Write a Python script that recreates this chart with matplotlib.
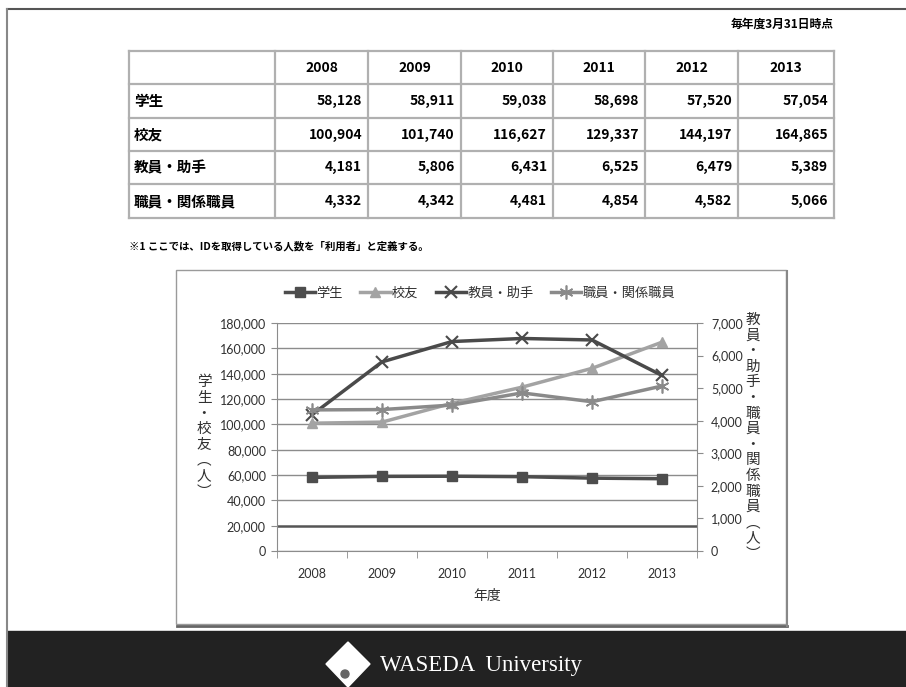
import matplotlib
matplotlib.use('Agg')
import matplotlib.pyplot as plt
from matplotlib.patches import Rectangle, Polygon, Circle
from matplotlib.ticker import FuncFormatter, MultipleLocator, FixedLocator

# data
years = ['2008', '2009', '2010', '2011', '2012', '2013']
row_labels = ['学生', '校友', '教員・助手', '職員・関係職員']
student = [58128, 58911, 59038, 58698, 57520, 57054]
alumni = [100904, 101740, 116627, 129337, 144197, 164865]
faculty = [4181, 5806, 6431, 6525, 6479, 5389]
staff = [4332, 4342, 4481, 4854, 4582, 5066]
table_rows = [student, alumni, faculty, staff]

legend_names = ['学生', '校友', '教員・助手', '職員・関係職員']
left_label = ['学', '生', '・', '校', '友', '︵', '人', '︶']
right_label = ['教', '員', '・', '助', '手', '・', '職', '員', '・', '関', '係', '職', '員', '︵', '人', '︶']

W, H = 906, 687
cjk = ['Noto Sans CJK JP', 'DejaVu Sans']
chart_font = ['Lato', 'Noto Sans CJK JP', 'DejaVu Sans']
plt.rcParams['font.family'] = cjk

fig = plt.figure(figsize=(W / 100, H / 100), dpi=100)
fig.patch.set_facecolor('white')

# overlay in pixel coords for the slide decoration and the table
bg = fig.add_axes([0, 0, 1, 1])
bg.set_xlim(0, W)
bg.set_ylim(H, 0)
bg.axis('off')

# slide frame
bg.plot([7, W], [9, 9], color='#555555', lw=1.5)
bg.plot([7, 7], [9, H], color='#888888', lw=1.5)
bg.add_patch(Rectangle((7, 631), W - 7, H - 631, color='#222222', zorder=1))

# footer logo
bg.add_patch(Polygon([(348, 642), (370, 664), (348, 687), (326, 664)],
                     closed=True, color='white', zorder=2))
bg.add_patch(Circle((345, 674), 4, color='#666666', zorder=3))
bg.text(380, 666, 'WASEDA  University', color='white', fontsize=16.5,
        family='Liberation Serif', va='center', ha='left', zorder=3)

# table
col_x = [129, 275, 368, 461, 553, 645, 738, 834]
row_y = [51, 84, 118, 151, 184, 218]
for y in row_y:
    bg.plot([col_x[0], col_x[-1]], [y, y], color='#b0b0b0', lw=1.6)
for x in col_x:
    bg.plot([x, x], [row_y[0], row_y[-1]], color='#b0b0b0', lw=1.6)

for j, yr in enumerate(years):
    bg.text((col_x[j + 1] + col_x[j + 2]) / 2, (row_y[0] + row_y[1]) / 2, yr,
            ha='center', va='center', fontsize=10, fontweight='bold')
for i, (lab, vals) in enumerate(zip(row_labels, table_rows)):
    yc = (row_y[i + 1] + row_y[i + 2]) / 2
    bg.text(col_x[0] + 5, yc, lab, ha='left', va='center', fontsize=10.5,
            fontweight='bold')
    for j, v in enumerate(vals):
        bg.text(col_x[j + 2] - 6, yc, f'{v:,}', ha='right', va='center',
                fontsize=10, fontweight='bold')

bg.text(834, 24, '毎年度3月31日時点', ha='right', va='center', fontsize=8.5,
        fontweight='bold')
bg.text(129, 246, '※1 ここでは、IDを取得している人数を「利用者」と定義する。',
        ha='left', va='center', fontsize=7.5, fontweight='bold')

# chart frame with shadow
bg.add_patch(Rectangle((176, 270), 610, 354, fill=False, edgecolor='#9a9a9a', lw=1))
bg.plot([177, 787], [625.5, 625.5], color='#666666', lw=2)
bg.plot([787, 787], [271, 625.5], color='#888888', lw=1.5)

# chart axes
x0, x1, yt, yb = 277, 697, 323, 551
ax = fig.add_axes([x0 / W, 1 - yb / H, (x1 - x0) / W, (yb - yt) / H])
ax2 = ax.twinx()
xs = list(range(len(years)))

grid_c = '#8c8c8c'
ax.set_xlim(-0.5, len(years) - 0.5)
ax.set_ylim(0, 180000)
ax2.set_ylim(0, 7000)
ax.yaxis.set_major_locator(MultipleLocator(20000))
ax2.yaxis.set_major_locator(MultipleLocator(1000))
fmt = FuncFormatter(lambda v, p: f'{int(v):,}')
ax.yaxis.set_major_formatter(fmt)
ax2.yaxis.set_major_formatter(fmt)
ax.grid(axis='y', color=grid_c, lw=1)
ax.set_axisbelow(True)
for gl, val in zip(ax.get_ygridlines(), ax.get_yticks()):
    if val == 20000:
        gl.set_color('#555555')
        gl.set_linewidth(1.8)

ax.xaxis.set_major_locator(FixedLocator(xs))
ax.set_xticklabels(years)
ax.xaxis.set_minor_locator(FixedLocator([i - 0.5 for i in range(len(years) + 1)]))
ax.tick_params(axis='x', which='major', length=0, pad=12)
ax.tick_params(axis='x', which='minor', length=5, color=grid_c, direction='out')
ax.tick_params(axis='y', length=4, color=grid_c, pad=4)
ax2.tick_params(axis='y', length=4, color=grid_c, pad=6)

for a in (ax, ax2):
    for s in a.spines.values():
        s.set_visible(False)
    for lbl in a.get_xticklabels() + a.get_yticklabels():
        lbl.set_family(chart_font)
        lbl.set_fontsize(9)
        lbl.set_color('#303030')
ax.spines['left'].set_visible(True)
ax.spines['left'].set_color(grid_c)
ax.spines['bottom'].set_visible(True)
ax.spines['bottom'].set_color(grid_c)
ax2.spines['right'].set_visible(True)
ax2.spines['right'].set_color(grid_c)

h1, = ax.plot(xs, student, color='#4d4d4d', lw=2.5, marker='s', ms=7,
              label=legend_names[0], zorder=3)
h2, = ax.plot(xs, alumni, color='#a3a3a3', lw=2.5, marker='^', ms=7,
              label=legend_names[1], zorder=3)
h3, = ax2.plot(xs, faculty, color='#4a4a4a', lw=2.5, marker='x', ms=8, mew=1.5,
               label=legend_names[2], zorder=3)
h4, = ax2.plot(xs, staff, color='#8a8a8a', lw=2.5, marker=(6, 2, 0), ms=10,
               mew=1.2, label=legend_names[3], zorder=3)

leg = ax2.legend(handles=[h1, h2, h3, h4], loc='center',
                 bbox_to_anchor=(480 / W, 1 - 293 / H),
                 bbox_transform=fig.transFigure, ncol=4, frameon=False,
                 handlelength=2.3, handletextpad=0.1, columnspacing=1.3,
                 prop={'family': chart_font, 'size': 9.5})
for t in leg.get_texts():
    t.set_color('#303030')

ax.set_xlabel('年度', fontsize=10, color='#303030', labelpad=7)

# stacked vertical axis titles
pitch = 15.6
for i, ch in enumerate(left_label):
    y = 437 - pitch * (len(left_label) - 1) / 2 + i * pitch
    bg.text(204, y, ch, ha='center', va='center', fontsize=10.5, color='#303030')
for i, ch in enumerate(right_label):
    y = 437 - pitch * (len(right_label) - 1) / 2 + i * pitch
    bg.text(753, y, ch, ha='center', va='center', fontsize=10.5, color='#303030')

fig.savefig('out.png', dpi=100)
